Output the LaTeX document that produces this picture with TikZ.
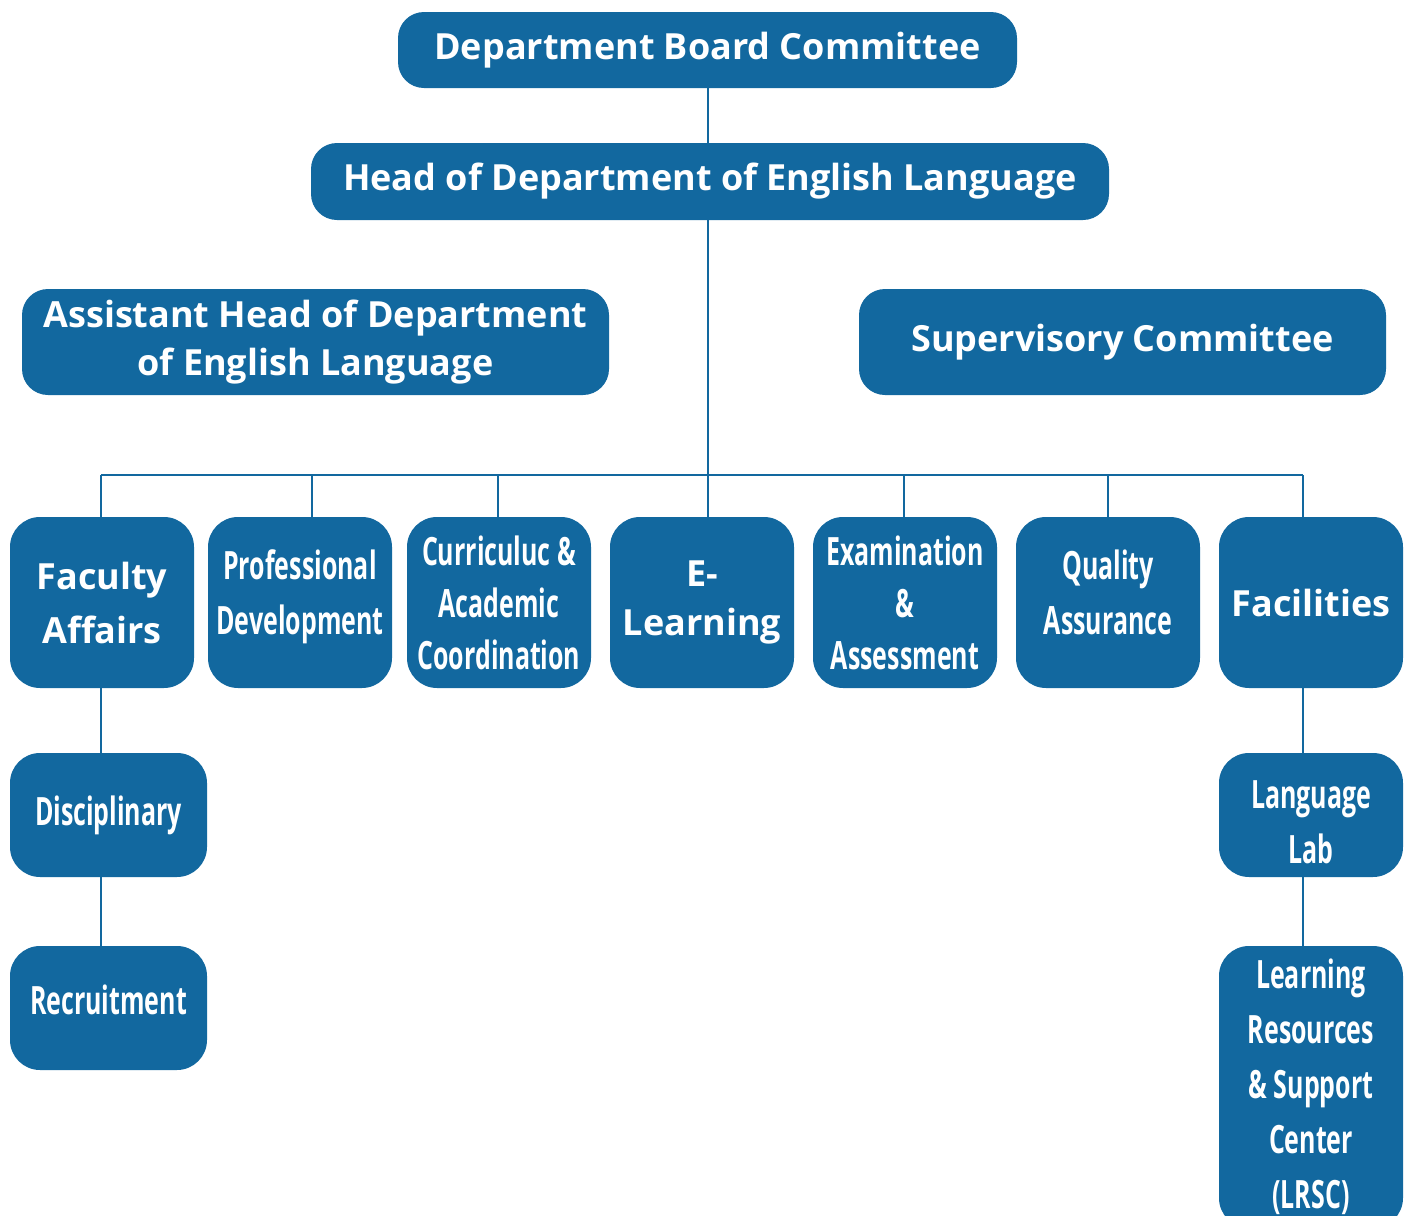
\documentclass[tikz,border=0pt]{standalone}
\usepackage{fontspec}
\setmainfont{Open Sans}
\newfontfamily\narrowfont{Open Sans}[FakeStretch=0.64]
\usetikzlibrary{positioning}
\definecolor{orgblue}{RGB}{18,104,159}

\begin{document}
\begin{tikzpicture}[x=0.5pt, y=-0.5pt, >=stealth,
    unit/.style={rectangle, rounded corners=15pt, fill=orgblue, text=white, align=center, inner sep=0pt,
                 font=\fontsize{18}{27}\selectfont\bfseries},
    topunit/.style={unit, rounded corners=13pt, font=\fontsize{18}{24}\selectfont\bfseries},
    narrow/.style={unit, font=\fontsize{19.5}{27.5}\selectfont\narrowfont\bfseries},
    link/.style={draw=orgblue, line width=1pt}]
    \useasboundingbox (0,0) rectangle (1410,1216);
    % top of the chart
    \node[topunit, minimum width=309.5pt, minimum height=38pt] (board)  at (707.5,50)  {Department Board Committee};
    \node[topunit, minimum width=399pt,   minimum height=38.5pt] (head) at (710,181.5) {Head of Department of English Language};
    \node[topunit, minimum width=293.5pt, minimum height=53pt] (assist) at (315.5,342) {Assistant Head of Department\\of English Language};
    \node[topunit, minimum width=263.5pt, minimum height=53pt] (superv) at (1122.5,342) {Supervisory Committee};
    % units
    \node[unit,   minimum width=92pt, minimum height=85.5pt] (faculty) at (102,602.5)  {Faculty\\Affairs};
    \node[narrow, minimum width=92pt, minimum height=85.5pt] (prof)    at (300,602.5)  {Professional\\Development\rule[-10.5pt]{0pt}{10.5pt}};
    \node[narrow, minimum width=92pt, minimum height=85.5pt, font=\fontsize{19.5}{26}\selectfont\narrowfont\bfseries] (curric)  at (499,602.5)  {Curriculuc \&\\Academic\\Coordination};
    \node[unit,   minimum width=92pt, minimum height=85.5pt, font=\fontsize{18}{24.5}\selectfont\bfseries] (elearn)  at (702,602.5)  {E-\\Learning};
    \node[narrow, minimum width=92pt, minimum height=85.5pt, font=\fontsize{19.5}{26}\selectfont\narrowfont\bfseries] (exam)    at (905,602.5)  {Examination\\\&\\Assessment};
    \node[narrow, minimum width=92pt, minimum height=85.5pt] (quality) at (1108,602.5) {Quality\\Assurance\rule[-10pt]{0pt}{10pt}};
    \node[unit,   minimum width=92pt, minimum height=85.5pt] (facil)   at (1311,602.5) {Facilities};
    % sub units
    \node[narrow, minimum width=98.5pt, minimum height=62pt] (disc)    at (108.5,815)  {Disciplinary};
    \node[narrow, minimum width=98.5pt, minimum height=62pt] (recruit) at (108.5,1008) {\raisebox{8pt}{Recruitment}};
    \node[narrow, minimum width=92pt,   minimum height=62pt] (lab)     at (1311,815)   {\rule{0pt}{21pt}Language\\Lab};
    \node[narrow, minimum width=92pt,   minimum height=141pt] (lrsc)   at (1311,1087)  {Learning\\Resources\\\& Support\\Center\\(LRSC)};
    % lines
    \coordinate (busL) at (101,475);
    \coordinate (busR) at (1303,475);
    \draw[link] (board) -- (board |- head.north);
    \draw[link] ([xshift=-1pt]head.south) -- ([xshift=-1pt]head.south |- elearn.north);
    \draw[link] (busL) -- (busR);
    \foreach \n/\dx in {faculty/-0.5, prof/6, curric/-0.5, exam/-0.5, quality/0, facil/-4}
        \draw[link] ([xshift=\dx pt]\n.north) -- ([xshift=\dx pt]\n.north |- busL);
    \draw[link] ([xshift=-0.5pt]faculty.south) -- ([xshift=-0.5pt]faculty.south |- disc.north);
    \draw[link] ([xshift=-0.5pt]faculty.south |- disc.south) -- ([xshift=-0.5pt]faculty.south |- recruit.north);
    \draw[link] ([xshift=-4pt]facil.south) -- ([xshift=-4pt]facil.south |- lab.north);
    \draw[link] ([xshift=-4pt]facil.south |- lab.south) -- ([xshift=-4pt]facil.south |- lrsc.north);
\end{tikzpicture}
\end{document}
